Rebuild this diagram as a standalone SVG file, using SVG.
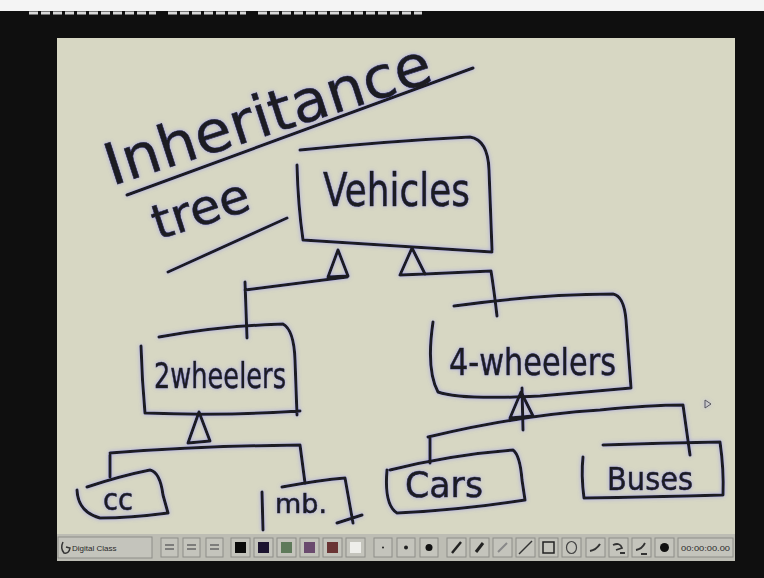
<svg xmlns="http://www.w3.org/2000/svg" width="764" height="578" viewBox="0 0 764 578">
<defs>
<filter id="glow" x="-10%" y="-10%" width="120%" height="120%">
<feGaussianBlur in="SourceAlpha" stdDeviation="2.2" result="b"/>
<feFlood flood-color="#7a78ff" flood-opacity="0.5"/>
<feComposite in2="b" operator="in" result="g"/>
<feMerge><feMergeNode in="g"/><feMergeNode in="SourceGraphic"/></feMerge>
</filter>
<style>
.ink{fill:none;stroke:#1b1b22;stroke-width:3;stroke-linecap:round;stroke-linejoin:round}
.hw{font-family:"DejaVu Sans","Liberation Sans",sans-serif;fill:#1b1b22;stroke:#1b1b22;stroke-width:0.6}
.btn{fill:#c4c4bc;stroke:#8e8e88;stroke-width:1}
.tb{font-family:"Liberation Sans",sans-serif;fill:#2a2a2a}
</style>
</defs>
<rect x="0" y="0" width="764" height="578" fill="#0f0f0f"/>
<rect x="0" y="0" width="764" height="11" fill="#f4f4f4"/>
<g stroke="#d8d8d8" stroke-width="3" stroke-dasharray="9 3">
<line x1="29" y1="13" x2="156" y2="13"/>
<line x1="168" y1="13" x2="246" y2="13"/>
<line x1="258" y1="13" x2="422" y2="13"/>
</g>
<rect x="57" y="38" width="678" height="496" fill="#d7d7c3"/>

<g id="ink" filter="url(#glow)">
<g id="title">
<text class="hw" transform="translate(112,186) rotate(-18)" font-size="58" textLength="340" lengthAdjust="spacingAndGlyphs">Inheritance</text>
<path class="ink" d="M127,195 L473,68"/>
<text class="hw" transform="translate(158,240) rotate(-18)" font-size="48" textLength="100" lengthAdjust="spacingAndGlyphs">tree</text>
<path class="ink" d="M168,272 L287,218"/>
</g>

<g id="node-vehicles">
<path class="ink" d="M300,150 Q390,141 470,137 Q488,140 489,170 L492,250 M297,165 Q298,205 303,240 L492,252"/>
<text class="hw" x="323" y="206" font-size="46" textLength="147" lengthAdjust="spacingAndGlyphs">Vehicles</text>
</g>

<g id="node-2wheelers">
<path class="ink" d="M159,337 Q220,326 283,324 Q294,330 295,360 L297,415 M141,346 Q142,380 145,413 Q220,416 300,411"/>
<text class="hw" x="154" y="388" font-size="36" textLength="132" lengthAdjust="spacingAndGlyphs">2wheelers</text>
</g>

<g id="node-4wheelers">
<path class="ink" d="M454,306 Q540,294 613,294 Q624,296 626,320 L631,388 M433,322 Q426,370 438,392 Q460,400 540,396 L631,388"/>
<text class="hw" x="449" y="375" font-size="38" textLength="167" lengthAdjust="spacingAndGlyphs">4-wheelers</text>
</g>

<g id="node-cc">
<path class="ink" d="M87,487 Q120,476 150,470 Q160,472 163,495 L168,513 Q130,518 100,518 Q78,512 77,490"/>
<text class="hw" x="103" y="510" font-size="30" textLength="30" lengthAdjust="spacingAndGlyphs">cc</text>
</g>

<g id="node-mb">
<path class="ink" d="M262,492 L263,530 M282,487 Q320,480 345,478 L353,523 M337,523 L362,515"/>
<text class="hw" x="275" y="513" font-size="26" textLength="52" lengthAdjust="spacingAndGlyphs">mb.</text>
</g>

<g id="node-cars">
<path class="ink" d="M390,470 Q450,455 513,450 Q520,455 522,480 L525,500 Q460,510 397,513 Q384,505 387,470"/>
<text class="hw" x="405" y="497" font-size="36" textLength="78" lengthAdjust="spacingAndGlyphs">Cars</text>
</g>

<g id="node-buses">
<path class="ink" d="M603,445 Q660,443 720,442 Q724,470 723,495 Q650,497 584,498 Q581,475 583,457"/>
<text class="hw" x="607" y="490" font-size="32" textLength="86" lengthAdjust="spacingAndGlyphs">Buses</text>
</g>

<g id="connectors">
<path class="ink" d="M338,250 L328,277 L348,276 Z"/>
<path class="ink" d="M412,248 L400,275 L425,274 Z"/>
<path class="ink" d="M347,277 Q300,283 245,290 M245,282 L247,338"/>
<path class="ink" d="M425,274 L491,271 Q494,290 497,316"/>
<path class="ink" d="M199,412 L188,443 L210,441 Z"/>
<path class="ink" d="M110,453 Q200,446 300,445 L305,483 M110,455 L110,477"/>
<path class="ink" d="M521,392 L510,418 L533,416 Z"/>
<path class="ink" d="M522,388 L523,430"/>
<path class="ink" d="M428,437 Q520,415 600,410 Q650,405 683,405 L690,455 M430,437 L430,463"/>
</g>
<path d="M705,400 L711,404 L705,408 Z" fill="none" stroke="#555" stroke-width="1"/>
</g>

<g id="toolbar">
<rect x="57" y="534" width="678" height="27" fill="#bdbdb4"/>
<rect x="58" y="537" width="94" height="21" class="btn"/>
<path d="M63,542 Q60,548 64,553 Q69,554 70,548 L66,547" fill="none" stroke="#333" stroke-width="1.5"/>
<text class="tb" x="72" y="551" font-size="8">Digital Class</text>
<rect x="161" y="538" width="17" height="19" class="btn"/>
<rect x="183" y="538" width="17" height="19" class="btn"/>
<rect x="206" y="538" width="17" height="19" class="btn"/>
<path d="M165,545 h9 M165,549 h9 M187,545 h9 M187,549 h9 M210,545 h9 M210,549 h9" stroke="#666" stroke-width="1.5"/>
<rect x="231" y="538" width="19" height="19" class="btn"/>
<rect x="235" y="542" width="11" height="11" fill="#0a0a0a"/>
<rect x="254" y="538" width="19" height="19" class="btn"/>
<rect x="258" y="542" width="11" height="11" fill="#1c1430"/>
<rect x="277" y="538" width="19" height="19" class="btn"/>
<rect x="281" y="542" width="11" height="11" fill="#5e7a5a"/>
<rect x="300" y="538" width="19" height="19" class="btn"/>
<rect x="304" y="542" width="11" height="11" fill="#6a4a6e"/>
<rect x="323" y="538" width="19" height="19" class="btn"/>
<rect x="327" y="542" width="11" height="11" fill="#6a3434"/>
<rect x="346" y="538" width="19" height="19" class="btn"/>
<rect x="350" y="542" width="11" height="11" fill="#eeeeea"/>
<rect x="374" y="538" width="18" height="19" class="btn"/>
<circle cx="383" cy="547.5" r="1" fill="#222"/>
<rect x="397" y="538" width="18" height="19" class="btn"/>
<circle cx="406" cy="547.5" r="2" fill="#222"/>
<rect x="420" y="538" width="18" height="19" class="btn"/>
<circle cx="429" cy="547.5" r="3.5" fill="#111"/>
<rect x="447" y="538" width="19" height="19" class="btn"/>
<path d="M452,553 L461,542" stroke="#222" stroke-width="2.5"/>
<rect x="470" y="538" width="19" height="19" class="btn"/>
<path d="M476,552 L483,543" stroke="#222" stroke-width="3"/>
<rect x="493" y="538" width="19" height="19" class="btn"/>
<path d="M498,552 L507,543" stroke="#888" stroke-width="2"/>
<rect x="516" y="538" width="19" height="19" class="btn"/>
<path d="M519,554 L532,541" stroke="#333" stroke-width="1.5"/>
<rect x="539" y="538" width="19" height="19" class="btn"/>
<rect x="543" y="542" width="11" height="11" fill="none" stroke="#222" stroke-width="1.5"/>
<rect x="562" y="538" width="19" height="19" class="btn"/>
<ellipse cx="571.5" cy="547.5" rx="5" ry="6" fill="none" stroke="#444" stroke-width="1.2"/>
<rect x="586" y="538" width="19" height="19" class="btn"/>
<path d="M590,551 Q596,550 600,544" fill="none" stroke="#333" stroke-width="2"/>
<rect x="609" y="538" width="19" height="19" class="btn"/>
<path d="M613,545 Q620,542 622,548 L616,550 M620,553 h5" fill="none" stroke="#333" stroke-width="1.8"/>
<rect x="632" y="538" width="19" height="19" class="btn"/>
<path d="M636,550 Q642,549 645,543 M641,554 h6" fill="none" stroke="#333" stroke-width="1.8"/>
<rect x="655" y="538" width="19" height="19" class="btn"/>
<circle cx="664.5" cy="547.5" r="4.5" fill="#111"/>
<rect x="678" y="538" width="55" height="19" class="btn"/>
<text class="tb" x="681" y="551" font-size="8" textLength="49" lengthAdjust="spacingAndGlyphs">00:00:00.00</text>
</g>
</svg>
